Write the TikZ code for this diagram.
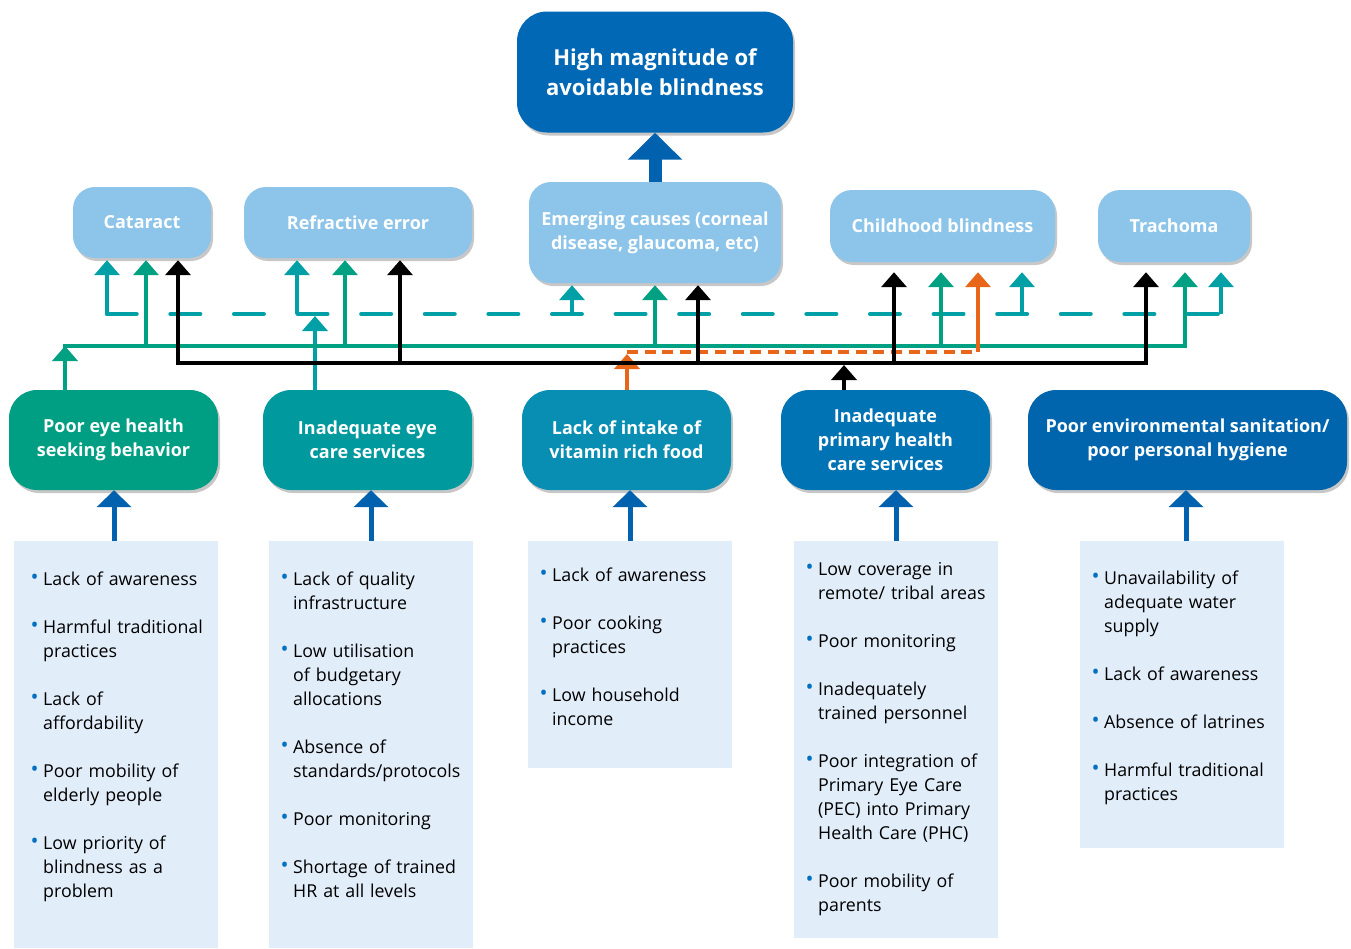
\documentclass[tikz,border=0pt]{standalone}
\usepackage{fontspec}
\setmainfont{Open Sans}
\usetikzlibrary{arrows.meta,shadows}

\definecolor{topblue}{HTML}{0068B4}
\definecolor{causeblue}{HTML}{8DC4EA}
\definecolor{factA}{HTML}{009E82}
\definecolor{factB}{HTML}{00999E}
\definecolor{factC}{HTML}{088DB3}
\definecolor{factD}{HTML}{0073B5}
\definecolor{factE}{HTML}{0065AD}
\definecolor{panelblue}{HTML}{E1EDF9}
\definecolor{arrowblue}{HTML}{0062AE}
\definecolor{dotblue}{HTML}{0070C0}
\definecolor{greenln}{HTML}{00A082}
\definecolor{tealln}{HTML}{00A0A6}
\definecolor{orangeln}{HTML}{E8661A}

\newcommand\bdot{\textcolor{dotblue}{\raisebox{0.02em}{\scalebox{1.2}{\textbullet}}}}
\newcommand\bitem[1]{\par\noindent\hangindent=12.5pt\hangafter=1\rule{0pt}{14pt}\makebox[12.5pt][l]{\bdot}{\let\\\newline#1}\par\vskip24pt}

\tikzset{
  effect/.style={rounded corners=28pt, text=white, inner sep=0pt, align=center,
    font=\fontsize{18}{24}\selectfont\bfseries,
    drop shadow={shadow xshift=2pt, shadow yshift=-3pt, opacity=0.22, fill=black}},
  cause/.style={effect, fill=causeblue, rounded corners=22pt},
  factor/.style={effect, fill=#1, minimum height=100pt, minimum width=209pt},
  panel/.style={fill=panelblue, inner sep=0pt, anchor=north, minimum width=204pt},
  bullets/.style={anchor=north west, inner sep=0pt, text width=200pt,
    font=\fontsize{17.8}{24}\selectfont},
  link/.style={line width=3.8pt, -{Triangle[width=25pt,length=15pt]}},
  busline/.style={line width=3.8pt, line cap=rect},
  upblue/.style={draw=arrowblue, line width=5pt, -{Triangle[width=34pt,length=17pt]}},
}

\begin{document}
\begin{tikzpicture}[x=1pt, y=-1pt]
  \useasboundingbox (0,0) rectangle (1351,948);

  % bus lines between the two rows
  \coordinate (tbus) at (0,314);
  \coordinate (gbus) at (0,346);
  \coordinate (obus) at (0,352);
  \coordinate (kbus) at (0,363);

  % the problem and its causes
  \node[effect, fill=topblue, minimum width=276pt, minimum height=121pt, rounded corners=30pt,
        font=\fontsize{22}{30}\selectfont\bfseries] (top) at (655,72) {High magnitude of\\avoidable blindness};

  \node[cause, minimum width=138pt, minimum height=71pt] (cat) at (142,222.5) {Cataract};
  \node[cause, minimum width=228pt, minimum height=71pt] (ref) at (358,222.5) {Refractive error};
  \node[cause, minimum width=252pt, minimum height=101pt] (emg) at (655,232.5) {Emerging causes (corneal\\disease, glaucoma, etc)};
  \node[cause, minimum width=225pt, minimum height=72pt] (chd) at (942.5,226) {Childhood blindness};
  \node[cause, minimum width=152pt, minimum height=72pt] (tra) at (1174,226) {Trachoma};

  \draw[draw=arrowblue, line width=13pt, -{Triangle[width=53pt,length=27pt]}] (emg.north) -- (top.south);

  % contributing factors
  \node[factor=factA] (fac1) at (113.5,440) {Poor eye health\\seeking behavior};
  \node[factor=factB] (fac2) at (367.5,440) {Inadequate eye\\care services};
  \node[factor=factC] (fac3) at (626.5,440) {Lack of intake of\\vitamin rich food};
  \node[factor=factD] (fac4) at (885.5,440) {Inadequate\\primary health\\care services};
  \node[factor=factE, minimum width=319pt] (fac5) at (1187.5,440) {Poor environmental sanitation/\\poor personal hygiene};

  % teal, dashed
  \draw[tealln, line width=4.5pt, line cap=round, dash pattern=on 29.5pt off 34.1pt] (107,0 |- tbus) -- (1221,0 |- tbus);
  \foreach \x/\tgt/\gap in {107/cat/2pt, 297/ref/2pt, 572/emg/2pt, 1022/chd/10pt, 1221/tra/10pt}
    \draw[link, tealln, shorten >=\gap] (\x,0 |- tbus) -- (\x,0 |- \tgt.south);
  \draw[link, tealln, shorten >=2pt] (315,0 |- fac2.north) -- (315,0 |- tbus);

  % green
  \draw[busline, greenln] (65,0 |- gbus) -- (1185,0 |- gbus);
  \foreach \x/\tgt/\gap in {146/cat/2pt, 345/ref/2pt, 655/emg/2pt, 941/chd/10pt, 1185/tra/10pt}
    \draw[link, greenln, shorten >=\gap] (\x,0 |- gbus) -- (\x,0 |- \tgt.south);
  \draw[link, greenln] (65,0 |- fac1.north) -- (65,0 |- gbus);

  % orange
  \draw[orangeln, line width=3.6pt, dash pattern=on 11pt off 6.6pt] (627,0 |- obus) -- (978,0 |- obus);
  \draw[link, orangeln, shorten >=10pt] (978,0 |- obus) -- (978,0 |- chd.south);
  \draw[link, orangeln, shorten >=2pt] (627,0 |- fac3.north) -- (627,0 |- obus);

  % black
  \draw[busline, black] (178,0 |- kbus) -- (1146,0 |- kbus);
  \foreach \x/\tgt/\gap in {178/cat/2pt, 400/ref/2pt, 698/emg/2pt, 894/chd/10pt, 1146/tra/10pt}
    \draw[link, black, shorten >=\gap] (\x,0 |- kbus) -- (\x,0 |- \tgt.south);
  \draw[link, black, shorten >=2pt] (844,0 |- fac4.north) -- (844,0 |- kbus);

  % panels with the reasons
  \node[panel, minimum height=407pt] (pan1) at (116,541) {};
  \node[panel, minimum height=407pt] (pan2) at (371,541) {};
  \node[panel, minimum height=227pt] (pan3) at (630,541) {};
  \node[panel, minimum height=397pt] (pan4) at (896,541) {};
  \node[panel, minimum height=307pt] (pan5) at (1182,541) {};

  \foreach \x/\i in {114/1, 371/2, 630/3, 896/4, 1186/5}
    \draw[upblue] (\x,0 |- pan\i.north) -- (\x,0 |- fac\i.south);

  \node[bullets] (lst1) at (30.5,561) {%
    \bitem{Lack of awareness}
    \bitem{Harmful traditional\\practices}
    \bitem{Lack of\\affordability}
    \bitem{Poor mobility of\\elderly people}
    \bitem{Low priority of\\blindness as a\\problem}};
  \node[bullets] (lst2) at (280.5,561) {%
    \bitem{Lack of quality\\infrastructure}
    \bitem{Low utilisation\\of budgetary\\allocations}
    \bitem{Absence of\\standards/protocols}
    \bitem{Poor monitoring}
    \bitem{Shortage of trained\\HR at all levels}};
  \node[bullets] (lst3) at (539.5,557) {%
    \bitem{Lack of awareness}
    \bitem{Poor cooking\\practices}
    \bitem{Low household\\income}};
  \node[bullets] (lst4) at (805.5,551) {%
    \bitem{Low coverage in\\remote/ tribal areas}
    \bitem{Poor monitoring}
    \bitem{Inadequately\\trained personnel}
    \bitem{Poor integration of\\Primary Eye Care\\(PEC) into Primary\\Health Care (PHC)}
    \bitem{Poor mobility of\\parents}};
  \node[bullets] (lst5) at (1091.5,560) {%
    \bitem{Unavailability of\\adequate water\\supply}
    \bitem{Lack of awareness}
    \bitem{Absence of latrines}
    \bitem{Harmful traditional\\practices}};
\end{tikzpicture}
\end{document}
